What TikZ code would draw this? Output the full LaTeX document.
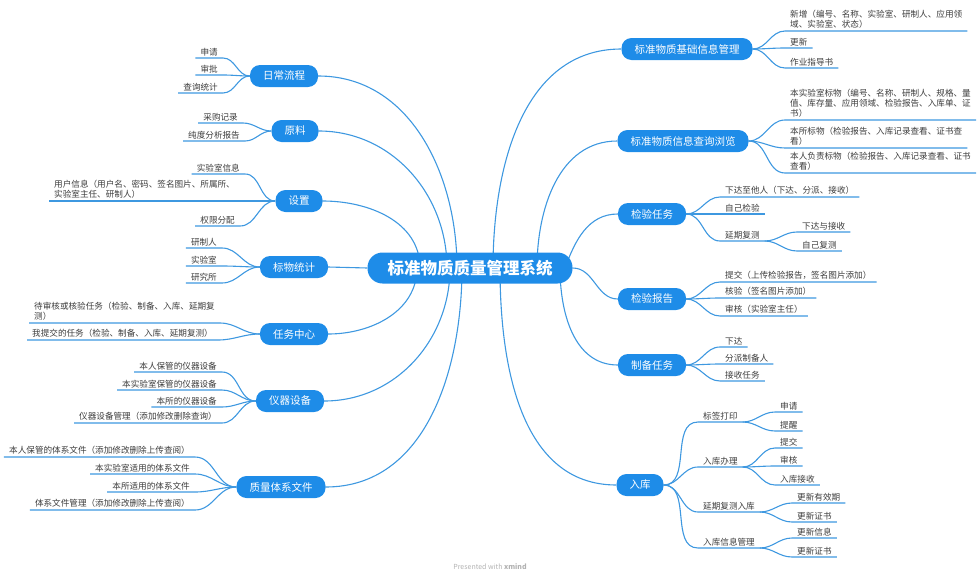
\documentclass[tikz,border=0pt]{standalone}
\usepackage{fontspec}
\setmainfont{Noto Sans CJK SC}
\usetikzlibrary{backgrounds}
\definecolor{topicblue}{RGB}{30,140,232}
\definecolor{linkblue}{RGB}{62,152,224}
\definecolor{leafgray}{RGB}{60,60,60}
\tikzset{
  branch/.style={linkblue,line width=1.1pt},
  root/.style={fill=topicblue,text=white,rounded corners=15pt,minimum height=31pt,
               inner xsep=20pt,font=\fontsize{16.5}{18}\selectfont\bfseries},
  topic/.style={fill=topicblue,text=white,rounded corners=10pt,minimum height=22pt,
                inner xsep=13pt,font=\fontsize{10.5}{12}\selectfont},
  leaf/.style={text=leafgray,inner xsep=5pt,inner ysep=2pt,align=left,
               font=\fontsize{8.6}{10}\selectfont},
  leafr/.style={leaf,anchor=south west},
  leafl/.style={leaf,anchor=south east},
}

\begin{document}
\begin{tikzpicture}[x=1pt,y=-1pt]
  \path[use as bounding box] (0,0) rectangle (977,573);

  \node[root] (C) at (470,268) {标准物质质量管理系统};

  % left topics
  \node[topic] (daily) at (284,76) {日常流程};
  \node[topic] (raw) at (295,131) {原料};
  \node[topic] (setup) at (299,201) {设置};
  \node[topic] (stats) at (294,267) {标物统计};
  \node[topic] (task) at (294,334) {任务中心};
  \node[topic] (instr) at (290,401) {仪器设备};
  \node[topic] (qdoc) at (281,487) {质量体系文件};

  % right topics
  \node[topic] (base) at (687,49) {标准物质基础信息管理};
  \node[topic] (query) at (683,141) {标准物质信息查询浏览};
  \node[topic] (insp) at (652,214) {检验任务};
  \node[topic] (report) at (652,299) {检验报告};
  \node[topic] (prep) at (652,365) {制备任务};
  \node[topic] (stock) at (640,485) {入库};

  \node[leafl] (d1) at (223,58) {申请};
  \node[leafl] (d2) at (223,75) {审批};
  \node[leafl] (d3) at (223,93) {查询统计};

  \node[leafl] (w1) at (243,123) {采购记录};
  \node[leafl] (w2) at (245,141) {纯度分析报告};

  \node[leafl] (t1) at (245,174) {实验室信息};
  \node[leafl] (t2) at (240,201) {用户信息（用户名、密码、签名图片、所属所、\\实验室主任、研制人）};
  \node[leafl] (t3) at (240,226) {权限分配};

  \node[leafl] (a1) at (222,248) {研制人};
  \node[leafl] (a2) at (222,266) {实验室};
  \node[leafl] (a3) at (222,283) {研究所};

  \node[leafl] (k1) at (220,323) {待审核或核验任务（检验、制备、入库、延期复\\测）};
  \node[leafl] (k2) at (218,340) {我提交的任务（检验、制备、入库、延期复测）};

  \node[leafl] (n1) at (222,372) {本人保管的仪器设备};
  \node[leafl] (n2) at (222,390) {本实验室保管的仪器设备};
  \node[leafl] (n3) at (222,407) {本所的仪器设备};
  \node[leafl] (n4) at (222,423) {仪器设备管理（添加修改删除查询）};

  \node[leafl] (f1) at (195,457) {本人保管的体系文件（添加修改删除上传查阅）};
  \node[leafl] (f2) at (195,474) {本实验室适用的体系文件};
  \node[leafl] (f3) at (195,492) {本所适用的体系文件};
  \node[leafl] (f4) at (195,510) {体系文件管理（添加修改删除上传查阅）};

  \node[leafr] (b1) at (785,31) {新增（编号、名称、实验室、研制人、应用领\\域、实验室、状态）};
  \node[leafr] (b2) at (785,48) {更新};
  \node[leafr] (b3) at (785,68) {作业指导书};

  \node[leafr] (q1) at (785,120) {本实验室标物（编号、名称、研制人、规格、量\\值、库存量、应用领域、检验报告、入库单、证\\书）};
  \node[leafr] (q2) at (785,148) {本所标物（检验报告、入库记录查看、证书查\\看）};
  \node[leafr] (q3) at (785,173) {本人负责标物（检验报告、入库记录查看、证书\\查看）};

  \node[leafr] (i1) at (720,197) {下达至他人（下达、分派、接收）};
  \node[leafr] (i2) at (720,214) {自己检验};
  \node[leafr] (i3) at (720,241) {延期复测};
  \node[leafr] (i31) at (797,232) {下达与接收};
  \node[leafr] (i32) at (797,251) {自己复测};

  \node[leafr] (r1) at (720,282) {提交（上传检验报告，签名图片添加）};
  \node[leafr] (r2) at (720,298) {核验（签名图片添加）};
  \node[leafr] (r3) at (720,316) {审核（实验室主任）};

  \node[leafr] (p1) at (720,347) {下达};
  \node[leafr] (p2) at (720,364) {分派制备人};
  \node[leafr] (p3) at (720,381) {接收任务};

  \node[leafr] (s1) at (698,422) {标签打印};
  \node[leafr] (s11) at (775,412) {申请};
  \node[leafr] (s12) at (775,431) {提醒};
  \node[leafr] (s2) at (698,467) {入库办理};
  \node[leafr] (s21) at (775,448) {提交};
  \node[leafr] (s22) at (775,466) {审核};
  \node[leafr] (s23) at (775,485) {入库接收};
  \node[leafr] (s3) at (698,512) {延期复测入库};
  \node[leafr] (s31) at (792,503) {更新有效期};
  \node[leafr] (s32) at (792,522) {更新证书};
  \node[leafr] (s4) at (698,548) {入库信息管理};
  \node[leafr] (s41) at (792,538) {更新信息};
  \node[leafr] (s42) at (792,557) {更新证书};

  \node[font=\fontsize{7}{8}\selectfont,text=black!30] (credit) at (490,567)
    {Presented with \textbf{xmind}};

  \begin{scope}[on background layer]
    \draw[branch] (457,268) to[out=90,in=0] (daily.east);
    \draw[branch] (447,268) to[out=90,in=0] (raw.east);
    \draw[branch] (420,268) to[out=90,in=0] (setup.east);
    \draw[branch] (C.west) -- (stats.east);
    \draw[branch] (417,268) to[out=-90,in=0] (task.east);
    \draw[branch] (450,268) to[out=-90,in=0] (instr.east);
    \draw[branch] (462,268) to[out=-90,in=0] (qdoc.east);
    \draw[branch] (493,268) to[out=90,in=180] (base.west);
    \draw[branch] (537,268) to[out=90,in=180] (query.west);
    \draw[branch] (565,268) to[out=70,in=180] (insp.west);
    \draw[branch] (C.east) to[out=0,in=180] (report.west);
    \draw[branch] (560,268) to[out=-90,in=180] (prep.west);
    \draw[branch] (500,268) to[out=-90,in=180] (stock.west);
  \end{scope}

  \draw[branch] (daily.west) to[out=180,in=0] (d1.south east) -- (d1.south west);
  \draw[branch] (daily.west) to[out=180,in=0] (d2.south east) -- (d2.south west);
  \draw[branch] (daily.west) to[out=180,in=0] (d3.south east) -- (d3.south west);
  \draw[branch] (raw.west) to[out=180,in=0] (w1.south east) -- (w1.south west);
  \draw[branch] (raw.west) to[out=180,in=0] (w2.south east) -- (w2.south west);
  \draw[branch] (setup.west) to[out=180,in=0] (t1.south east) -- (t1.south west);
  \draw[branch] (setup.west) to[out=180,in=0] (t2.south east) -- (t2.south west);
  \draw[branch] (setup.west) to[out=180,in=0] (t3.south east) -- (t3.south west);
  \draw[branch] (stats.west) to[out=180,in=0] (a1.south east) -- (a1.south west);
  \draw[branch] (stats.west) to[out=180,in=0] (a2.south east) -- (a2.south west);
  \draw[branch] (stats.west) to[out=180,in=0] (a3.south east) -- (a3.south west);
  \draw[branch] (task.west) to[out=180,in=0] (k1.south east) -- (k1.south west);
  \draw[branch] (task.west) to[out=180,in=0] (k2.south east) -- (k2.south west);
  \draw[branch] (instr.west) to[out=180,in=0] (n1.south east) -- (n1.south west);
  \draw[branch] (instr.west) to[out=180,in=0] (n2.south east) -- (n2.south west);
  \draw[branch] (instr.west) to[out=180,in=0] (n3.south east) -- (n3.south west);
  \draw[branch] (instr.west) to[out=180,in=0] (n4.south east) -- (n4.south west);
  \draw[branch] (qdoc.west) to[out=180,in=0] (f1.south east) -- (f1.south west);
  \draw[branch] (qdoc.west) to[out=180,in=0] (f2.south east) -- (f2.south west);
  \draw[branch] (qdoc.west) to[out=180,in=0] (f3.south east) -- (f3.south west);
  \draw[branch] (qdoc.west) to[out=180,in=0] (f4.south east) -- (f4.south west);

  \draw[branch] (base.east) to[out=0,in=180] (b1.south west) -- (b1.south east);
  \draw[branch] (base.east) to[out=0,in=180] (b2.south west) -- (b2.south east);
  \draw[branch] (base.east) to[out=0,in=180] (b3.south west) -- (b3.south east);
  \draw[branch] (query.east) to[out=0,in=180] (q1.south west) -- (q1.south east);
  \draw[branch] (query.east) to[out=0,in=180] (q2.south west) -- (q2.south east);
  \draw[branch] (query.east) to[out=0,in=180] (q3.south west) -- (q3.south east);
  \draw[branch] (insp.east) to[out=0,in=180] (i1.south west) -- (i1.south east);
  \draw[branch] (insp.east) to[out=0,in=180] (i2.south west) -- (i2.south east);
  \draw[branch] (insp.east) to[out=0,in=180] (i3.south west) -- (i3.south east);
  \draw[branch] (i3.south east) to[out=0,in=180] (i31.south west) -- (i31.south east);
  \draw[branch] (i3.south east) to[out=0,in=180] (i32.south west) -- (i32.south east);
  \draw[branch] (report.east) to[out=0,in=180] (r1.south west) -- (r1.south east);
  \draw[branch] (report.east) to[out=0,in=180] (r2.south west) -- (r2.south east);
  \draw[branch] (report.east) to[out=0,in=180] (r3.south west) -- (r3.south east);
  \draw[branch] (prep.east) to[out=0,in=180] (p1.south west) -- (p1.south east);
  \draw[branch] (prep.east) to[out=0,in=180] (p2.south west) -- (p2.south east);
  \draw[branch] (prep.east) to[out=0,in=180] (p3.south west) -- (p3.south east);
  \draw[branch] (stock.east) to[out=0,in=180] (s1.south west) -- (s1.south east);
  \draw[branch] (stock.east) to[out=0,in=180] (s2.south west) -- (s2.south east);
  \draw[branch] (stock.east) to[out=0,in=180] (s3.south west) -- (s3.south east);
  \draw[branch] (stock.east) to[out=0,in=180] (s4.south west) -- (s4.south east);
  \draw[branch] (s1.south east) to[out=0,in=180] (s11.south west) -- (s11.south east);
  \draw[branch] (s1.south east) to[out=0,in=180] (s12.south west) -- (s12.south east);
  \draw[branch] (s2.south east) to[out=0,in=180] (s21.south west) -- (s21.south east);
  \draw[branch] (s2.south east) to[out=0,in=180] (s22.south west) -- (s22.south east);
  \draw[branch] (s2.south east) to[out=0,in=180] (s23.south west) -- (s23.south east);
  \draw[branch] (s3.south east) to[out=0,in=180] (s31.south west) -- (s31.south east);
  \draw[branch] (s3.south east) to[out=0,in=180] (s32.south west) -- (s32.south east);
  \draw[branch] (s4.south east) to[out=0,in=180] (s41.south west) -- (s41.south east);
  \draw[branch] (s4.south east) to[out=0,in=180] (s42.south west) -- (s42.south east);
\end{tikzpicture}
\end{document}
